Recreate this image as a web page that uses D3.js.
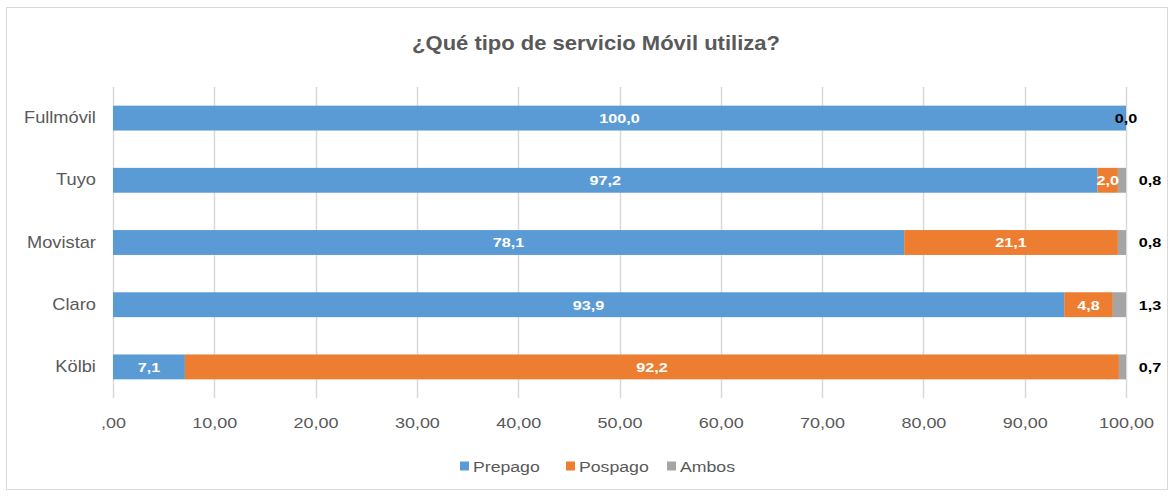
<!DOCTYPE html>
<html>
<head>
<meta charset="utf-8">
<script src="https://cdn.jsdelivr.net/npm/d3@7"></script>
<style>
  body { margin: 0; background: #fff; }
  text { font-family: "Liberation Sans", Arial, sans-serif; }
</style>
</head>
<body>
<div id="chart"></div>
<script>
// data
const operators = ["Fullmóvil", "Tuyo", "Movistar", "Claro", "Kölbi"];
const prepago = [100.0, 97.2, 78.1, 93.9, 7.1];
const pospago = [0.0, 2.0, 21.1, 4.8, 92.2];
const ambos = [0.0, 0.8, 0.8, 1.3, 0.7];
const seriesNames = ["Prepago", "Pospago", "Ambos"];
const xTicks = [0, 10, 20, 30, 40, 50, 60, 70, 80, 90, 100];

const W = 1174, H = 496;
const margin = {top: 87, right: 48, bottom: 98, left: 113},
    width = W - margin.left - margin.right,
    height = H - margin.top - margin.bottom;

const colors = d3.scaleOrdinal().domain(seriesNames).range(["#5B9BD5", "#ED7D31", "#A5A5A5"]);

// the reference text is a bit wider than Arial, so stretch it sideways
const stretch = s => `scale(${s},1)`;

const svg = d3.select("#chart").append("svg")
    .attr("width", W).attr("height", H);

// outer chart border
svg.append("rect")
    .attr("x", 6.5).attr("y", 7.5)
    .attr("width", W - 13).attr("height", H - 14)
    .attr("fill", "#fff").attr("stroke", "#d9d9d9");

svg.append("text")
    .attr("transform", `translate(596,50) ${stretch(1.1)}`)
    .attr("text-anchor", "middle")
    .attr("font-size", "20px").attr("font-weight", "bold")
    .attr("fill", "#595959")
    .text("¿Qué tipo de servicio Móvil utiliza?");

const g = svg.append("g").attr("transform", `translate(${margin.left},${margin.top})`);

const x = d3.scaleLinear().domain([0, 100]).range([0, width]);
const y = d3.scaleBand().domain(operators).range([0, height]).paddingInner(0.6).paddingOuter(0.3);

// gridlines
g.append("g")
  .selectAll("line")
  .data(xTicks)
  .join("line")
    .attr("x1", d => Math.round(x(d)) + 0.5).attr("x2", d => Math.round(x(d)) + 0.5)
    .attr("y1", 0).attr("y2", height)
    .attr("stroke", "#d9d9d9").attr("stroke-width", 1.5);

// stacked data
const rows = operators.map((op, i) => ({op, Prepago: prepago[i], Pospago: pospago[i], Ambos: ambos[i]}));
const stacked = d3.stack().keys(seriesNames)(rows);

g.append("g")
  .selectAll("g")
  .data(stacked)
  .join("g")
    .attr("fill", d => colors(d.key))
  .selectAll("rect")
  .data(d => d)
  .join("rect")
    .attr("x", d => x(d[0]))
    .attr("y", d => y(d.data.op))
    .attr("width", d => x(d[1]) - x(d[0]))
    .attr("height", y.bandwidth());

const fmt = v => v.toFixed(1).replace(".", ",");

// labels inside bars (Prepago, Pospago)
stacked.slice(0, 2).forEach(s => {
  g.append("g").selectAll("text")
    .data(s.filter(d => d[1] - d[0] > 0))
    .join("text")
      .attr("transform", d => `translate(${(x(d[0]) + x(d[1])) / 2},${y(d.data.op) + y.bandwidth() / 2}) ${stretch(1.2)}`)
      .attr("dy", "0.36em")
      .attr("text-anchor", "middle")
      .attr("font-size", "13.5px").attr("font-weight", "bold")
      .attr("fill", "#fff")
      .text(d => fmt(d[1] - d[0]));
});

// Ambos labels sit to the right of the bars
g.append("g").selectAll("text")
  .data(stacked[2])
  .join("text")
    .attr("transform", d => `translate(${d[1] - d[0] > 0 ? x(100) + 24 : x(d[0])},${y(d.data.op) + y.bandwidth() / 2}) ${stretch(1.2)}`)
    .attr("dy", "0.36em")
    .attr("text-anchor", "middle")
    .attr("font-size", "13.5px").attr("font-weight", "bold")
    .attr("fill", "#000")
    .text(d => fmt(d[1] - d[0]));

// y axis labels
const yAxis = g.append("g").call(d3.axisLeft(y).tickSize(0).tickPadding(15));
yAxis.select(".domain").remove();
yAxis.selectAll("text").attr("font-size", "16px").attr("fill", "#595959")
    .attr("font-family", "Liberation Sans, Arial, sans-serif")
    .attr("transform", stretch(1.14));

// x axis labels
const xAxis = g.append("g")
    .attr("transform", `translate(0,${height})`)
    .call(d3.axisBottom(x).tickValues(xTicks).tickSize(0).tickPadding(19)
      .tickFormat(d => d === 0 ? ",00" : d.toFixed(2).replace(".", ",")));
xAxis.select(".domain").remove();
xAxis.selectAll("text").attr("font-size", "15.5px").attr("fill", "#595959")
    .attr("font-family", "Liberation Sans, Arial, sans-serif")
    .attr("transform", stretch(1.16));

// legend
const legendX = [460, 566, 667];
const legend = svg.append("g").selectAll("g")
  .data(seriesNames)
  .join("g")
    .attr("transform", (d, i) => `translate(${legendX[i]},466)`);
legend.append("rect")
    .attr("x", 0).attr("y", -4.5).attr("width", 9).attr("height", 9)
    .attr("fill", d => colors(d));
legend.append("text")
    .attr("transform", `translate(13,0) ${stretch(1.14)}`)
    .attr("dy", "0.36em")
    .attr("font-size", "15.5px").attr("fill", "#595959")
    .text(d => d);
</script>
</body>
</html>
